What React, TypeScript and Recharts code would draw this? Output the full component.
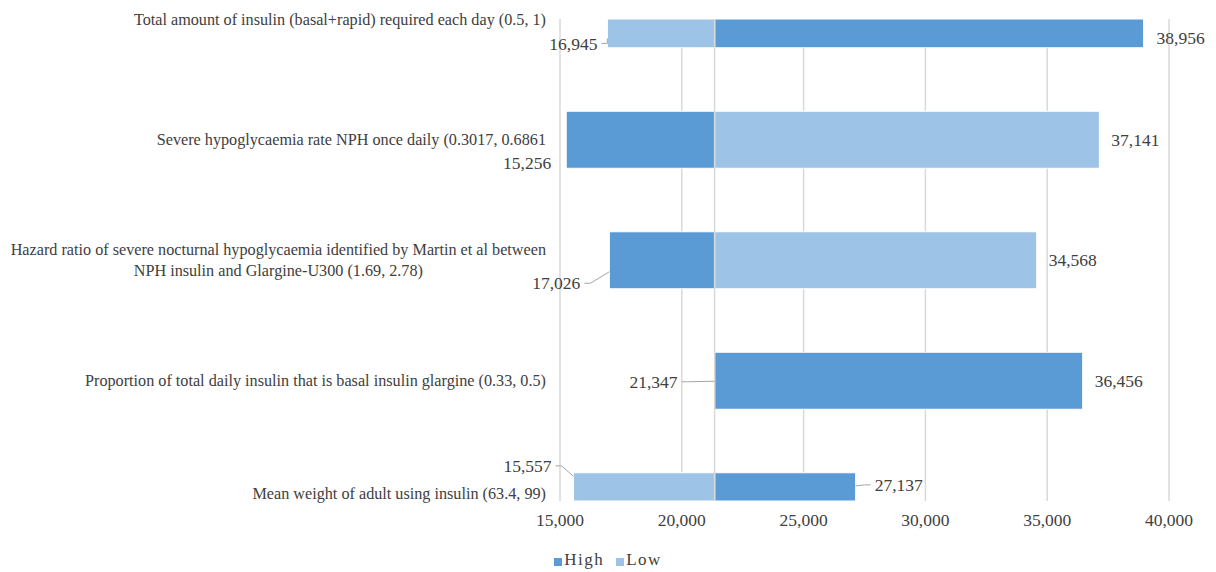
import React from 'react';
import { BarChart, Bar, XAxis, YAxis, CartesianGrid, ReferenceLine, LabelList, Legend } from 'recharts';

const categories = [
  'Total amount of insulin (basal+rapid) required each day (0.5, 1)',
  'Severe hypoglycaemia rate NPH once daily (0.3017, 0.6861',
  'Hazard ratio of severe nocturnal hypoglycaemia identified by Martin et al between\nNPH insulin and Glargine-U300 (1.69, 2.78)',
  'Proportion of total daily insulin that is basal insulin glargine (0.33, 0.5)',
  'Mean weight of adult using insulin (63.4, 99)',
];
const highValues = [38956, 15256, 17026, 36456, 27137];
const lowValues = [16945, 37141, 34568, 21347, 15557];
const baseValue = 21347;
const xTicks = [15000, 20000, 25000, 30000, 35000, 40000];
const rowTicks = [0, 1, 2, 3, 4];

const HIGH_COLOR = '#5B9BD5';
const LOW_COLOR = '#9DC3E6';
const TEXT = '#404040';
const FONT = '"Liberation Serif", "Times New Roman", serif';

const W = 1216;
const H = 572;
const M = { top: 19, right: 47, bottom: 41, left: 546 };
const X_AXIS_H = 30;
const PLOT_TOP = M.top;
const PLOT_BOTTOM = H - M.bottom - X_AXIS_H;
const CAT_SIZE = 16.2;
const VAL_SIZE = 17.5;

// excel placed a few data labels off-centre, with leader lines
const LABEL_NUDGE: Record<string, { dx: number; dy: number; leader?: boolean }> = {
  'high-0': { dx: 13, dy: 4 },
  'low-0': { dx: -10, dy: 10, leader: true },
  'high-1': { dx: -15, dy: 23 },
  'high-2': { dx: -29, dy: 23, leader: true },
  'low-3': { dx: -37, dy: 1, leader: true },
  'high-4': { dx: 19, dy: -2, leader: true },
  'low-4': { dx: -22, dy: -21, leader: true },
};

const rows = categories.map((name, i) => ({
  idx: i,
  name,
  high: highValues[i],
  low: lowValues[i],
}));

const fmt = (v: number) => v.toLocaleString('en-US');

const measure = (s: string, font: string) => {
  const ctx = document.createElement('canvas').getContext('2d');
  if (!ctx) return s.length * 7;
  ctx.font = font;
  return ctx.measureText(s).width;
};

const CategoryTick = ({ x, y, payload }: any) => {
  const lines = (categories[payload.value] ?? '').split('\n');
  const right = x - 14;
  const ty = Math.min(y, PLOT_BOTTOM - 8);
  const style = { fontFamily: FONT, fontSize: CAT_SIZE, fill: TEXT };
  if (lines.length === 1) {
    return (
      <text x={right} y={ty} dy="0.35em" textAnchor="end" style={style}>
        {lines[0]}
      </text>
    );
  }
  const w = Math.max(...lines.map((l) => measure(l, `${CAT_SIZE}px ${FONT}`)));
  const cx = right - w / 2;
  return (
    <text textAnchor="middle" style={style}>
      {lines.map((l, i) => (
        <tspan key={i} x={cx} y={ty + (i - (lines.length - 1) / 2) * 21} dy="0.35em">
          {l}
        </tspan>
      ))}
    </text>
  );
};

// rows 0 and 4 sit on the plot edge, so bars are cut to the plot area
const ClippedBar = (props: any) => {
  const { x, y, width, height, fill } = props;
  const top = Math.max(y, PLOT_TOP);
  const bottom = Math.min(y + height, PLOT_BOTTOM);
  if (bottom <= top || !(width > 0)) return null;
  return <rect x={x} y={top} width={width} height={bottom - top} fill={fill} stroke="#fff" strokeWidth={1} />;
};

const makeLabel = (series: 'high' | 'low', values: number[]) => (props: any) => {
  const vb = props.viewBox && props.viewBox.width !== undefined ? props.viewBox : props;
  const { x, y, width, height } = vb;
  const index = props.index;
  const v = values[index];
  if (v === undefined) return null;
  const top = Math.max(y, PLOT_TOP);
  const bottom = Math.min(y + height, PLOT_BOTTOM);
  const cy = (top + bottom) / 2;
  const onRight = v > baseValue;
  const nudge = LABEL_NUDGE[`${series}-${index}`] ?? { dx: onRight ? 12 : -12, dy: 0 };
  const edge = onRight ? x + width : x;
  const tx = edge + nudge.dx;
  const ty = cy + nudge.dy;
  let leader = null;
  if (nudge.leader) {
    const ey = Math.max(top + 2, Math.min(bottom - 2, (ty + cy) / 2));
    const s = onRight ? -1 : 1;
    const pts = `${tx + s * 4},${ty} ${tx + s * 10},${ty} ${edge},${ey}`;
    leader = <polyline points={pts} fill="none" stroke="#A6A6A6" strokeWidth={1} />;
  }
  return (
    <g>
      {leader}
      <text
        x={tx}
        y={ty}
        dy="0.35em"
        textAnchor={onRight ? 'start' : 'end'}
        style={{ fontFamily: FONT, fontSize: VAL_SIZE, fill: TEXT }}
      >
        {fmt(v)}
      </text>
    </g>
  );
};

const LegendContent = () => (
  <div
    style={{
      display: 'flex',
      justifyContent: 'center',
      alignItems: 'center',
      gap: 12,
      fontFamily: FONT,
      fontSize: 17,
      letterSpacing: 1.5,
      color: TEXT,
    }}
  >
    {[
      { name: 'High', color: HIGH_COLOR },
      { name: 'Low', color: LOW_COLOR },
    ].map((it) => (
      <span key={it.name} style={{ display: 'flex', alignItems: 'center', gap: 2 }}>
        <span style={{ width: 8, height: 8, background: it.color, display: 'inline-block', marginTop: 3 }} />
        {it.name}
      </span>
    ))}
  </div>
);

export default function App() {
  return (
    <div style={{ position: 'absolute', left: 0, top: 0, width: W, height: H, background: '#fff' }}>
      <BarChart
        width={W}
        height={H}
        data={rows}
        layout="vertical"
        margin={M}
        barGap={-57}
      >
        <CartesianGrid horizontal={false} stroke="#D9D9D9" strokeWidth={1.5} />
        <XAxis
          type="number"
          domain={[15000, 40000]}
          ticks={xTicks}
          interval={0}
          height={X_AXIS_H}
          axisLine={false}
          tickLine={false}
          tickMargin={7}
          tickFormatter={fmt}
          tick={{ fill: TEXT, fontSize: VAL_SIZE, fontFamily: FONT }}
        />
        <YAxis
          type="number"
          dataKey="idx"
          domain={[0, 4]}
          ticks={rowTicks}
          interval={0}
          width={14}
          axisLine={false}
          tickLine={false}
          tickSize={0}
          tickMargin={0}
          tick={<CategoryTick />}
        />
        <Legend
          verticalAlign="middle"
          align="center"
          wrapperStyle={{ top: 550, left: 0, width: W, height: 22 }}
          content={<LegendContent />}
        />
        <Bar
          dataKey={(d: any) => [Math.min(d.high, baseValue), Math.max(d.high, baseValue)]}
          name="High"
          fill={HIGH_COLOR}
          barSize={57}
          shape={<ClippedBar />}
          isAnimationActive={false}
        >
          <LabelList content={makeLabel('high', highValues)} />
        </Bar>
        <Bar
          dataKey={(d: any) => [Math.min(d.low, baseValue), Math.max(d.low, baseValue)]}
          name="Low"
          fill={LOW_COLOR}
          barSize={57}
          shape={<ClippedBar />}
          isAnimationActive={false}
        >
          <LabelList content={makeLabel('low', lowValues)} />
        </Bar>
        <ReferenceLine x={baseValue} stroke="#D9D9D9" strokeWidth={1.5} />
      </BarChart>
    </div>
  );
}
